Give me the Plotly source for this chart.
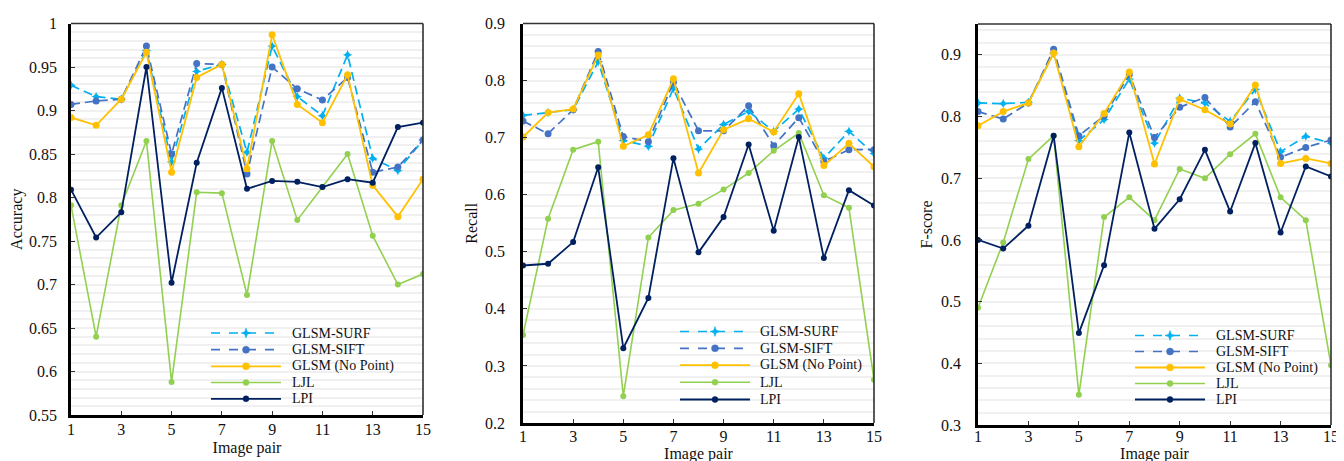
import plotly.graph_objects as go

image_pairs = list(range(1, 16))
series_names = ["GLSM-SURF", "GLSM-SIFT", "GLSM (No Point)", "LJL", "LPI"]

accuracy_surf = [0.929, 0.916, 0.913, 0.969, 0.841, 0.945, 0.953, 0.852, 0.974, 0.916, 0.894, 0.964, 0.845, 0.831, 0.866]
accuracy_sift = [0.907, 0.911, 0.913, 0.974, 0.850, 0.954, 0.953, 0.827, 0.950, 0.925, 0.912, 0.938, 0.829, 0.835, 0.866]
accuracy_glsm = [0.892, 0.883, 0.913, 0.967, 0.829, 0.938, 0.953, 0.833, 0.987, 0.907, 0.886, 0.941, 0.814, 0.778, 0.821]
accuracy_ljl = [0.791, 0.640, 0.791, 0.865, 0.588, 0.806, 0.805, 0.688, 0.865, 0.774, 0.812, 0.850, 0.756, 0.700, 0.712]
accuracy_lpi = [0.809, 0.754, 0.783, 0.950, 0.702, 0.840, 0.926, 0.810, 0.819, 0.818, 0.812, 0.821, 0.817, 0.881, 0.886]

recall_surf = [0.739, 0.744, 0.749, 0.833, 0.695, 0.685, 0.786, 0.680, 0.723, 0.746, 0.711, 0.750, 0.664, 0.711, 0.672]
recall_sift = [0.729, 0.707, 0.749, 0.851, 0.702, 0.693, 0.797, 0.712, 0.712, 0.756, 0.686, 0.735, 0.658, 0.679, 0.679]
recall_glsm = [0.701, 0.744, 0.750, 0.845, 0.685, 0.705, 0.803, 0.638, 0.714, 0.733, 0.710, 0.777, 0.651, 0.690, 0.649]
recall_ljl = [0.354, 0.558, 0.679, 0.693, 0.247, 0.525, 0.573, 0.584, 0.609, 0.638, 0.677, 0.708, 0.599, 0.577, 0.276]
recall_lpi = [0.476, 0.479, 0.517, 0.648, 0.331, 0.419, 0.664, 0.499, 0.561, 0.688, 0.537, 0.701, 0.489, 0.608, 0.581]

fscore_surf = [0.822, 0.821, 0.823, 0.903, 0.761, 0.795, 0.861, 0.757, 0.830, 0.822, 0.792, 0.844, 0.743, 0.768, 0.757]
fscore_sift = [0.808, 0.796, 0.822, 0.909, 0.769, 0.801, 0.868, 0.766, 0.815, 0.831, 0.783, 0.824, 0.734, 0.750, 0.762]
fscore_glsm = [0.785, 0.808, 0.822, 0.903, 0.751, 0.805, 0.872, 0.723, 0.828, 0.811, 0.788, 0.851, 0.724, 0.732, 0.724]
fscore_ljl = [0.490, 0.596, 0.731, 0.769, 0.349, 0.637, 0.669, 0.632, 0.715, 0.700, 0.739, 0.772, 0.669, 0.632, 0.397]
fscore_lpi = [0.600, 0.586, 0.623, 0.769, 0.449, 0.559, 0.774, 0.618, 0.666, 0.746, 0.646, 0.757, 0.612, 0.719, 0.703]

panel_titles = ["Accuracy", "Recall", "F-score"]
x_title = "Image pair"
x_tickvals = [1, 3, 5, 7, 9, 11, 13, 15]

panels = [
    [accuracy_surf, accuracy_sift, accuracy_glsm, accuracy_ljl, accuracy_lpi],
    [recall_surf, recall_sift, recall_glsm, recall_ljl, recall_lpi],
    [fscore_surf, fscore_sift, fscore_glsm, fscore_ljl, fscore_lpi],
]

W, H = 1344, 461
colors = ["#00B0F0", "#4472C4", "#FFC000", "#92D050", "#002060"]
dashes = ["9px,5px", "9px,5px", "solid", "solid", "solid"]
symbols = ["star-diamond", "circle", "circle", "circle", "circle"]
msizes = [7, 7, 7, 6, 6]
lwidths = [1.7, 1.7, 1.8, 1.6, 1.8]

# pixel boxes (left, right, top, bottom)
boxes = [(63, 415, 15.5, 407), (515, 866, 15.5, 415), (970, 1323, 16, 417)]
yranges = [(0.55, 1.0), (0.2, 0.9), (0.3, 0.95)]
ydticks = [0.05, 0.1, 0.1]
yminor = [0.01, 0.02, 0.02]
x_title_standoff = [5, 0, 0]
x_label_standoff = [-2, -3, -5]
y_label_standoff = [8, 12, 11]
y_title_standoff = [5, 4, 5]
# legend layout in pixels: (line start, line end, text start, row centres)
legend_px = [
    (203, 273, 282, [325, 341.7, 358.3, 374.5, 390.8]),
    (672, 742, 750, [323.5, 340.3, 357.2, 374.2, 391.5]),
    (1127, 1197, 1206, [327.5, 343.5, 359.5, 375.5, 391.5]),
]

FONT = "Liberation Serif"
GRID = "#f0f0f0"
fig = go.Figure()

star_path = "M0,-5 L1.3,-1.3 L5,0 L1.3,1.3 L0,5 L-1.3,1.3 L-5,0 L-1.3,-1.3 Z"

for p in range(3):
    xa = "x" if p == 0 else f"x{p+1}"
    ya = "y" if p == 0 else f"y{p+1}"
    for s in range(5):
        fig.add_trace(go.Scatter(
            x=image_pairs, y=panels[p][s], name=series_names[s],
            mode="lines+markers", xaxis=xa, yaxis=ya, showlegend=False,
            line=dict(color=colors[s], width=lwidths[s], dash=dashes[s]),
            marker=dict(color=colors[s], size=msizes[s], symbol=symbols[s]),
        ))
    l, r, t, b = boxes[p]
    xk = "xaxis" if p == 0 else f"xaxis{p+1}"
    yk = "yaxis" if p == 0 else f"yaxis{p+1}"
    fig.layout[xk] = dict(
        domain=[l / W, r / W], anchor=ya, range=[1, 15],
        tickvals=x_tickvals, ticks="inside", ticklen=4, tickwidth=1.2, tickcolor="#333",
        showline=True, linecolor="black", linewidth=2.5, showgrid=False, zeroline=False,
        tickfont=dict(family=FONT, size=16, color="#111"), ticklabelstandoff=x_label_standoff[p],
        title=dict(text=x_title, font=dict(family=FONT, size=16, color="#111"), standoff=x_title_standoff[p]),
        automargin=False,
    )
    fig.layout[yk] = dict(
        domain=[(H - b) / H, (H - t) / H], anchor=xa, range=list(yranges[p]),
        dtick=ydticks[p], tick0=0, ticks="inside", ticklen=4, tickwidth=1.2, tickcolor="#333",
        showline=True, linecolor="black", linewidth=2.5,
        showgrid=True, gridcolor=GRID, gridwidth=2, zeroline=False,
        minor=dict(dtick=yminor[p], tick0=0, showgrid=True, gridcolor=GRID, gridwidth=2, ticks=""),
        tickfont=dict(family=FONT, size=16, color="#111"), ticklabelstandoff=y_label_standoff[p],
        title=dict(text=panel_titles[p], font=dict(family=FONT, size=16, color="#111"), standoff=y_title_standoff[p]),
        automargin=False,
    )
    # top and right frame lines
    fig.add_shape(type="line", xref=f"{xa} domain", yref=f"{ya} domain", x0=0, x1=1, y0=1, y1=1,
                  line=dict(color="#333", width=1.5))
    fig.add_shape(type="line", xref=f"{xa} domain", yref=f"{ya} domain", x0=1, x1=1, y0=0, y1=1,
                  line=dict(color="#222", width=1.5))

    # hand-drawn legend (wide samples like the original)
    x0, x1, xt, rows = legend_px[p]
    xm = (x0 + x1) / 2
    for s in range(5):
        yy = (H - rows[s]) / H
        fig.add_shape(type="line", xref="paper", yref="paper", x0=x0 / W, x1=x1 / W, y0=yy, y1=yy,
                      line=dict(color=colors[s], width=lwidths[s], dash="dash" if s < 2 else "solid"))
        if s == 0:
            fig.add_shape(type="path", xref="paper", yref="paper", xsizemode="pixel", ysizemode="pixel",
                          xanchor=xm / W, yanchor=yy, path=star_path,
                          fillcolor=colors[s], line=dict(color=colors[s], width=0.5))
        else:
            rr = 3.5 if s < 3 else 3
            fig.add_shape(type="circle", xref="paper", yref="paper", xsizemode="pixel", ysizemode="pixel",
                          xanchor=xm / W, yanchor=yy, x0=-rr, x1=rr, y0=-rr, y1=rr,
                          fillcolor=colors[s], line=dict(color=colors[s], width=0.5))
        fig.add_annotation(text=series_names[s], xref="paper", yref="paper", x=xt / W, y=yy,
                           xanchor="left", yanchor="middle", showarrow=False,
                           font=dict(family=FONT, size=14, color="#111"))

fig.update_layout(
    width=W, height=H, margin=dict(l=0, r=0, t=0, b=0),
    paper_bgcolor="white", plot_bgcolor="white", showlegend=False,
)

fig.write_html("out.html")
